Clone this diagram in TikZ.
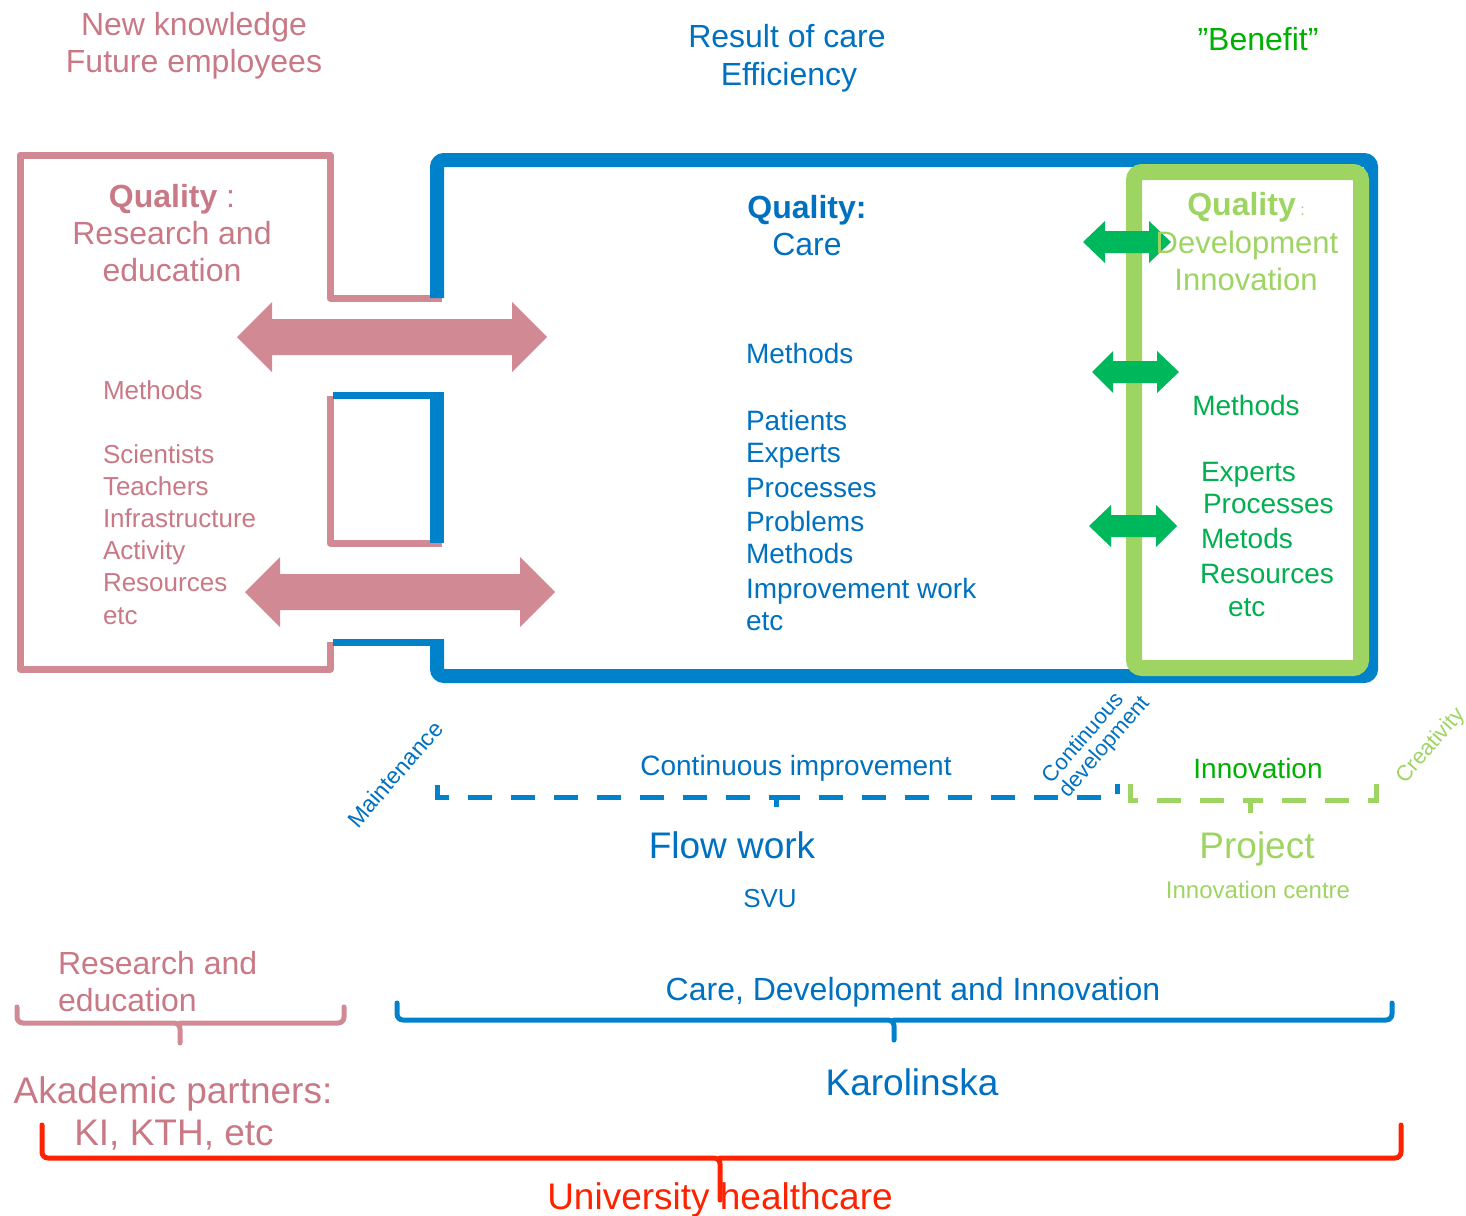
\documentclass[tikz,border=0pt]{standalone}
\usepackage{fontspec}
\setmainfont{Liberation Sans}
\definecolor{pinkL}{HTML}{D18A94}
\definecolor{pinkT}{HTML}{C97985}
\definecolor{blueL}{HTML}{0082CA}
\definecolor{blueT}{HTML}{0070C0}
\definecolor{lgreen}{HTML}{9ED562}
\definecolor{dgreen}{HTML}{00B85C}
\definecolor{gtext}{HTML}{00B050}
\definecolor{bgreen}{HTML}{00B000}
\definecolor{redL}{HTML}{FF2200}
\newcommand\fsz[1]{\fontsize{#1}{#1}\selectfont}
\tikzset{
  txt/.style={inner sep=0pt, outer sep=0pt, anchor=base},
  ltxt/.style={inner sep=0pt, outer sep=0pt, anchor=base west},
  rtxt/.style={inner sep=0pt, outer sep=0pt, anchor=center, rotate=49},
  pinkline/.style={draw=pinkL, line width=7pt, line join=round},
  bluethin/.style={draw=blueL, line width=7pt},
  bluethick/.style={draw=blueL, line width=14pt, rounded corners=7pt},
  greenbox/.style={draw=lgreen, line width=16pt, rounded corners=8pt, fill=white},
  brace/.style={line width=5pt, rounded corners=6pt, line cap=round},
  dbrace/.style={line width=5pt, dash pattern=on 24pt off 19pt},
}
\begin{document}
\begin{tikzpicture}[x=1pt,y=-1pt]
\useasboundingbox (0,0) rectangle (1466,1215);

% ---- left pink box ----
\draw[pinkline] (442,298) -- (330,298) -- (330,155) -- (20,155) -- (20,669) -- (330,669) -- (330,642);
\draw[pinkline] (330,396) -- (330,543) -- (442,543);
% ---- blue pieces ----
\draw[bluethin] (333,395) -- (444,395);
\draw[bluethin] (333,642) -- (444,642);
\draw[draw=blueL, line width=14pt] (437,392) -- (437,543);
\draw[bluethick] (437,298) -- (437,160) -- (1371,160) -- (1371,676) -- (437,676) -- (437,640);
% ---- green box ----
\draw[greenbox] (1134,172) rectangle (1361,668);

% ---- pink double arrows ----
\fill[pinkL] (237,337) -- (272,302) -- (272,319) -- (512,319) -- (512,302) -- (547,337)
  -- (512,372) -- (512,355) -- (272,355) -- (272,372) -- cycle;
\fill[pinkL] (245,592) -- (280,557) -- (280,574) -- (520,574) -- (520,557) -- (555,592)
  -- (520,627) -- (520,610) -- (280,610) -- (280,627) -- cycle;
% ---- green double arrows ----
\fill[dgreen] (1083,242) -- (1105,221) -- (1105,231) -- (1149,231) -- (1149,221) -- (1171,242)
  -- (1149,263) -- (1149,253) -- (1105,253) -- (1105,263) -- cycle;
\fill[dgreen] (1092,372) -- (1113,351) -- (1113,361) -- (1157,361) -- (1157,351) -- (1179,372)
  -- (1157,393) -- (1157,383) -- (1113,383) -- (1113,393) -- cycle;
\fill[dgreen] (1089,526) -- (1111,505) -- (1111,515) -- (1156,515) -- (1156,505) -- (1177,526)
  -- (1156,547) -- (1156,537) -- (1111,537) -- (1111,547) -- cycle;

% ---- dashed braces ----
\draw[blueL, dbrace] (437,785) |- (776,797);
\draw[blueL, line width=5pt] (776,797) -- (776,807);
\draw[blueL, dbrace] (776,797) -- (1117,797) -- (1117,784);
\draw[lgreen, dbrace] (1130,784) |- (1250,800);
\draw[lgreen, line width=5pt] (1250,800) -- (1250,813);
\draw[lgreen, dbrace] (1376,784) |- (1250,800);

% ---- solid braces ----
\draw[pinkL, brace] (17,1007) |- (180,1023) -- (180,1043);
\draw[pinkL, brace] (180,1023) -| (344,1007);
\draw[blueL, brace] (397,1003) |- (894,1020) -- (894,1040);
\draw[blueL, brace] (894,1020) -| (1392,1003);
\draw[redL, brace] (42,1125) |- (720,1158) -- (720,1200);
\draw[redL, brace] (720,1158) -| (1401,1125);

% ---- top texts ----
\node[txt, text=pinkT, font=\fsz{32}] (nk1) at (194,36) {New knowledge};
\node[txt, text=pinkT, font=\fsz{32}] (nk2) at (194,73) {Future employees};
\node[txt, text=blueT, font=\fsz{32}] (rc1) at (787,48) {Result of care};
\node[txt, text=blueT, font=\fsz{32}] (rc2) at (789,85) {Efficiency};
\node[txt, text=bgreen, font=\fsz{32}] (ben) at (1258,51) {”Benefit”};

% ---- left box texts ----
\node[txt, text=pinkT, font=\fsz{32}] (lq) at (172,207) {\textbf{Quality} :};
\node[txt, text=pinkT, font=\fsz{32}] (lq2) at (172,244) {Research and};
\node[txt, text=pinkT, font=\fsz{32}] (lq3) at (172,281) {education};
\node[ltxt, text=pinkT, font=\fsz{26}] (lm) at (103,399) {Methods};
\node[ltxt, text=pinkT, font=\fsz{26}] (l1) at (103,463) {Scientists};
\node[ltxt, text=pinkT, font=\fsz{26}] (l2) at (103,495) {Teachers};
\node[ltxt, text=pinkT, font=\fsz{26}] (l3) at (103,527) {Infrastructure};
\node[ltxt, text=pinkT, font=\fsz{26}] (l4) at (103,559) {Activity};
\node[ltxt, text=pinkT, font=\fsz{26}] (l5) at (103,591) {Resources};
\node[ltxt, text=pinkT, font=\fsz{26}] (l6) at (103,624) {etc};

% ---- middle texts ----
\node[txt, text=blueT, font=\fsz{32}] (mq) at (807,218) {\textbf{Quality:}};
\node[txt, text=blueT, font=\fsz{32}] (mq2) at (807,255) {Care};
\node[ltxt, text=blueT, font=\fsz{28}] (mm) at (746,363) {Methods};
\node[ltxt, text=blueT, font=\fsz{28}] (m1) at (746,430) {Patients};
\node[ltxt, text=blueT, font=\fsz{28}] (m2) at (746,462) {Experts};
\node[ltxt, text=blueT, font=\fsz{28}] (m3) at (746,497) {Processes};
\node[ltxt, text=blueT, font=\fsz{28}] (m4) at (746,531) {Problems};
\node[ltxt, text=blueT, font=\fsz{28}] (m5) at (746,563) {Methods};
\node[ltxt, text=blueT, font=\fsz{28}] (m6) at (746,598) {Improvement work};
\node[ltxt, text=blueT, font=\fsz{28}] (m7) at (746,630) {etc};

% ---- green box texts ----
\node[txt, text=lgreen, font=\fsz{32}] (gq) at (1246,215) {\textbf{Quality}\fsz{16} :};
\node[txt, text=lgreen, font=\fsz{31}] (gq2) at (1247,253) {Development};
\node[txt, text=lgreen, font=\fsz{31}] (gq3) at (1246,290) {Innovation};
\node[txt, text=gtext, font=\fsz{28}] (gm) at (1246,415) {Methods};
\node[ltxt, text=gtext, font=\fsz{28}] (g1) at (1201,481) {Experts};
\node[ltxt, text=gtext, font=\fsz{28}] (g2) at (1203,513) {Processes};
\node[ltxt, text=gtext, font=\fsz{28}] (g3) at (1201,548) {Metods};
\node[ltxt, text=gtext, font=\fsz{28}] (g4) at (1200,583) {Resources};
\node[ltxt, text=gtext, font=\fsz{28}] (g5) at (1228,616) {etc};

% ---- rotated labels ----
\node[rtxt, text=blueT, font=\fsz{23}] (mnt) at (395,774) {Maintenance};
\node[rtxt, text=blueT, font=\fsz{22}, align=left] (cdv) at (1097,740) {Continuous\\development};
\node[rtxt, text=lgreen, font=\fsz{22}] (cre) at (1431,746) {Creativity};

% ---- under box texts ----
\node[txt, text=blueT, font=\fsz{28}] (ci) at (796,775) {Continuous improvement};
\node[txt, text=bgreen, font=\fsz{28}] (inn) at (1258,778) {Innovation};
\node[txt, text=blueT, font=\fsz{37}] (fw) at (732,858) {Flow work};
\node[txt, text=blueT, font=\fsz{26}] (svu) at (770,907) {SVU};
\node[txt, text=lgreen, font=\fsz{37}] (prj) at (1257,858) {Project};
\node[txt, text=lgreen, font=\fsz{24}] (ic) at (1258,898) {Innovation centre};

% ---- bottom texts ----
\node[ltxt, text=pinkT, font=\fsz{32}] (re1) at (58,974) {Research and};
\node[ltxt, text=pinkT, font=\fsz{32}] (re2) at (58,1011) {education};
\node[txt, text=blueT, font=\fsz{32}] (cdi) at (913,1000) {Care, Development and Innovation};
\node[txt, text=blueT, font=\fsz{37}] (kar) at (912,1095) {Karolinska};
\node[txt, text=pinkT, font=\fsz{37}] (ak1) at (173,1103) {Akademic partners:};
\node[txt, text=pinkT, font=\fsz{37}] (ak2) at (174,1145) {KI, KTH, etc};
\node[txt, text=redL, font=\fsz{37}] (uh) at (720,1209) {University healthcare};
\end{tikzpicture}
\end{document}
